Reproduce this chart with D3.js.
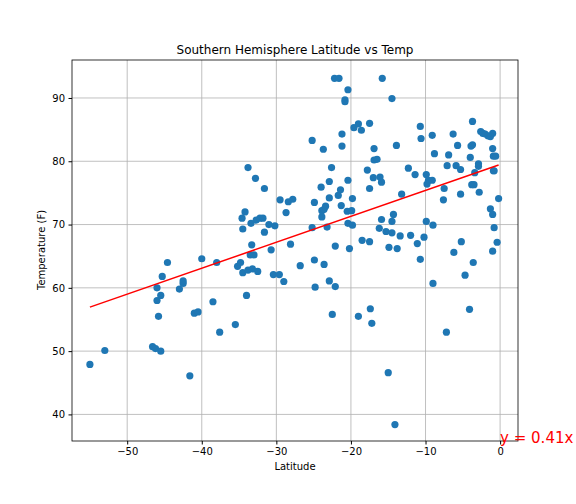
<!DOCTYPE html>
<html>
<head>
<meta charset="utf-8">
<script src="https://cdn.jsdelivr.net/npm/d3@7"></script>
<style>
body { margin: 0; background: #fff; }
text { font-family: "DejaVu Sans", sans-serif; }
</style>
</head>
<body>
<svg id="chart" width="576" height="504"></svg>
<script>
// latitude / max temp pairs
var lats = [-55,-53,-46.6,-46.2,-45.5,-46,-46,-45.5,-45.8,-45.3,-44.6,-43,-42.5,-42.5,-41.6,-41,-40.5,-40,-38.5,-38,-37.6,-35.5,-35.2,-34.8,-34.6,-34.5,-34.2,-34.5,-34,-33.8,-33.8,-33.5,-33.4,-33.3,-33.2,-33,-32.7,-32.8,-32.5,-32.2,-31.8,-31.6,-31.6,-31,-30.7,-30.4,-29.6,-30.2,-29.5,-29,-28.4,-28.7,-28.1,-27.8,-26.8,
  -25.2,-25.2,-24.9,-24.9,-24.8,-24,-23.7,-23.9,-23.9,-23.6,-23.4,-23.6,-23.2,-22.9,-22.9,-22.6,-22.9,-22.5,-22.2,-21.6,-22.1,-22.1,-21.7,-21.4,-21.3,-21.2,-21.2,-20.8,-20.8,-20.4,-20.5,-19.9,-20.4,-20.4,-20.2,-19.8,-19.8,-19.6,-19,-18.6,-19,-18.5,-17.8,-17.5,-17.5,-17.5,-17.4,-17.2,-16.9,-16.9,-16.5,-17,-16.1,-15.9,-15.9,-15.8,-16.2,-15.3,-15,-14.9,-14.5,-14.5,-14.3,-14.5,-13.9,-13.8,-14.1,-13.4,-13.2,-12.3,-12,-11.4,-11.1,-10.7,-10.7,-10.6,-10.2,-9.9,-9.6,-9.8,-9.1,-9.9,-9,-9.1,-8.8,-9,-7.6,-7.5,-7.2,-7.1,-6.9,-6.3,-6.2,-5.9,-5.3,-5.7,-5.3,-5.2,-4.7,-4.1,-4,-3.9,-3.7,-3.7,-3.6,-3.8,-3.5,-3.4,-2.9,-2.9,-2.8,-2.6,-2.3,-2.0,-1.6,-1.3,-1.0,-1,-1.3,-1,-1,-0.8,-0.9,-0.6,-0.9,-0.8,-0.4,-0.2];
var temps = [47.9,50.1,50.7,50.4,50,58,60,58.8,55.5,61.8,64,59.8,60.7,61.1,46.1,56,56.2,64.6,57.8,64,53,54.2,63.4,64,71,69.3,72,62.4,58.8,62.8,79,65.2,70.2,66.8,63,65.2,70.7,77.3,62.6,71,71,68.8,75.7,70,66,62.1,62.1,69.8,73.9,61,73.6,71.9,66.9,74,63.5,
  83.3,69.5,73.5,64.4,60.1,75.9,81.9,71.2,72.2,72.4,72.9,63.7,69.6,74.2,76.8,79,61.1,55.8,93.1,93.1,66.6,60.2,74.6,75.5,73,84.3,82.4,89.7,89.4,91.3,72.1,72.2,77,70.2,66.2,74.1,69.9,85.3,85.9,84.9,55.5,67.5,78.6,86,75.7,67.3,56.7,54.4,82,80.2,80.3,77.4,77.5,76.7,70.8,93.1,69.4,68.9,46.6,66.4,89.9,68.7,71.6,70.5,82.5,66.2,38.4,68.2,74.8,78.9,68.3,77.9,67,64.5,85.5,83.6,68,77.9,77,76.4,77,70.5,69.9,84.1,81.2,60.7,73.9,75.7,53,79.3,81,84.3,65.6,79.3,78.7,82.5,74.8,67.3,62,56.6,80.6,82.4,82.6,86.3,64,76.3,76.3,78.2,79.6,79.2,75.1,84.7,84.4,84.3,84,83.9,84.4,82,72.5,71.6,65.8,69.5,80.8,80.8,78.5,78.5,67.2,74.1];
var slope = 0.41, intercept = 79.5
var xTicks = [-50,-40,-30,-20,-10,0]
var yTicks = [40,50,60,70,80,90]

var svg = d3.select('#chart')
var x = d3.scaleLinear().domain([-57.4, 2.4]).range([72, 518])
var y = d3.scaleLinear().domain([35.8, 96.0]).range([441, 60])

// grid
svg.selectAll('.gx').data(xTicks).enter().append('line')
  .attr('x1', d => x(d)).attr('x2', d => x(d)).attr('y1', 60).attr('y2', 441)
  .attr('stroke', '#b0b0b0').attr('stroke-width', 0.8)
svg.selectAll('.gy').data(yTicks).enter().append('line')
  .attr('x1', 72).attr('x2', 518).attr('y1', d => y(d)).attr('y2', d => y(d))
  .attr('stroke', '#b0b0b0').attr('stroke-width', 0.8)

// points
var pts = lats.map((d, i) => [d, temps[i]])
svg.selectAll('circle').data(pts).enter().append('circle')
  .attr('cx', d => x(d[0])).attr('cy', d => y(d[1])).attr('r', 3.6)
  .attr('fill', '#1f77b4')

// regression line
var xr = d3.extent(lats)
svg.append('line')
  .attr('x1', x(xr[0])).attr('y1', y(slope*xr[0]+intercept))
  .attr('x2', x(xr[1])).attr('y2', y(slope*xr[1]+intercept))
  .attr('stroke', 'red').attr('stroke-width', 1.5)

// axes
var gx = svg.append('g').attr('transform', 'translate(0,441)')
  .call(d3.axisBottom(x).tickValues(xTicks).tickSize(3.5).tickPadding(3.5).tickFormat(d => d < 0 ? '\u2212' + (-d) : d))
var gy = svg.append('g').attr('transform', 'translate(72,0)')
  .call(d3.axisLeft(y).tickValues(yTicks).tickSize(3.5).tickPadding(3.5))
svg.selectAll('.domain').remove()
svg.selectAll('.tick text').attr('font-size', 10).attr('fill', '#000').style('font-family', 'DejaVu Sans')
svg.selectAll('.tick line').attr('stroke', '#000')
svg.append('rect').attr('x', 72).attr('y', 60).attr('width', 446).attr('height', 381)
  .attr('fill', 'none').attr('stroke', '#000').attr('stroke-width', 0.8)

svg.append('text').attr('x', 295).attr('y', 54).attr('text-anchor', 'middle')
  .attr('font-size', 12).text('Southern Hemisphere Latitude vs Temp')
svg.append('text').attr('x', 295).attr('y', 470).attr('text-anchor', 'middle')
  .attr('font-size', 10).text('Latitude')
svg.append('text').attr('transform', 'translate(45,250) rotate(-90)').attr('text-anchor', 'middle')
  .attr('font-size', 10).text('Temperature (F)')
svg.append('text').attr('x', x(0)).attr('y', 443).attr('fill', 'red')
  .attr('font-size', 15).text('y = 0.41x + 79.5')
</script>
</body>
</html>
